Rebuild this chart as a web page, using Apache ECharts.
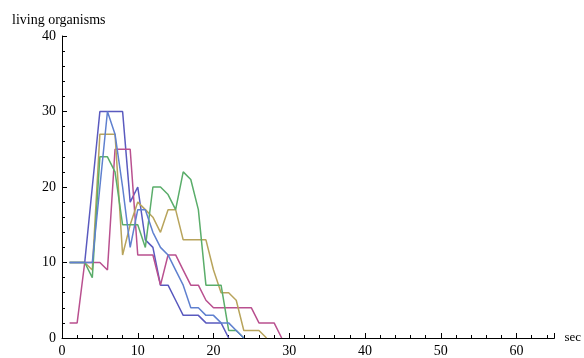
<!DOCTYPE html>
<html>
<head>
<meta charset="utf-8">
<script src="https://cdn.jsdelivr.net/npm/echarts@6/dist/echarts.min.js"></script>
<style>
  html, body { margin: 0; padding: 0; background: #fff; }
  #chart { width: 584px; height: 358px; }
</style>
</head>
<body>
<div id="chart"></div>
<script>
(() => {
  const chart = echarts.init(document.getElementById('chart'));

  // counts per second, starting at t = 1
  const startSec = 1;
  const runIndigo = [10, 10, 10, 20, 30, 30, 30, 30, 18, 20, 13, 12, 7, 7, 5, 3, 3, 3, 2, 2, 2, 0];
  const runMagenta = [2, 2, 10, 10, 10, 9, 25, 25, 25, 11, 11, 11, 7, 11, 11, 9, 7, 7, 5, 4, 4, 4, 4, 4, 4, 2, 2, 2, 0];
  const runGold = [10, 10, 10, 9, 27, 27, 27, 11, 15, 18, 17, 16, 14, 17, 17, 13, 13, 13, 13, 9, 6, 6, 5, 1, 1, 1, 0];
  const runGreen = [10, 10, 10, 8, 24, 24, 22, 15, 15, 15, 12, 20, 20, 19, 17, 22, 21, 17, 7, 7, 7, 1, 1, 0];
  const runBlue = [10, 10, 10, 10, 20, 30, 27, 20, 12, 17, 17, 14, 12, 11, 9, 7, 4, 4, 3, 3, 2, 2, 1, 0];

  const runs = [
    { name: 'run 1', values: runIndigo, color: '#5a5abf' },
    { name: 'run 2', values: runMagenta, color: '#b9508f' },
    { name: 'run 3', values: runGold, color: '#b8a45c' },
    { name: 'run 4', values: runGreen, color: '#5aad6a' },
    { name: 'run 5', values: runBlue, color: '#5f80cf' }
  ];

  const font = 'Liberation Serif, Times New Roman, serif';

  const axisCommon = {
    min: 0,
    interval: 10,
    axisLine: { show: true, lineStyle: { color: '#000', width: 1 } },
    axisTick: { show: true, inside: true, length: 5, lineStyle: { color: '#000' } },
    minorTick: { show: true, splitNumber: 5, length: 3, lineStyle: { color: '#000' } },
    splitLine: { show: false },
    axisLabel: { color: '#000', fontFamily: font, fontSize: 14 }
  };

  const option = {
    animation: false,
    backgroundColor: '#fff',
    title: {
      text: 'living organisms',
      left: 7,
      top: 8,
      textStyle: { color: '#000', fontFamily: font, fontSize: 14, fontWeight: 'normal' }
    },
    grid: { left: 62, right: 29, top: 36, bottom: 20, containLabel: false },
    xAxis: Object.assign({}, axisCommon, {
      type: 'value',
      max: 65,
      name: 'sec',
      nameLocation: 'end',
      nameGap: 10,
      nameTextStyle: { color: '#000', fontFamily: font, fontSize: 13 },
      axisLabel: Object.assign({}, axisCommon.axisLabel, { margin: 6, showMaxLabel: false })
    }),
    yAxis: Object.assign({}, axisCommon, {
      type: 'value',
      max: 40,
      axisLabel: Object.assign({}, axisCommon.axisLabel, { margin: 6 })
    }),
    series: runs.map(r => ({
      type: 'line',
      name: r.name,
      data: r.values.map((v, i) => [startSec + i, v]),
      symbol: 'none',
      lineStyle: { color: r.color, width: 1.5 },
      itemStyle: { color: r.color }
    }))
  };

  chart.setOption(option);
})();
</script>
</body>
</html>
